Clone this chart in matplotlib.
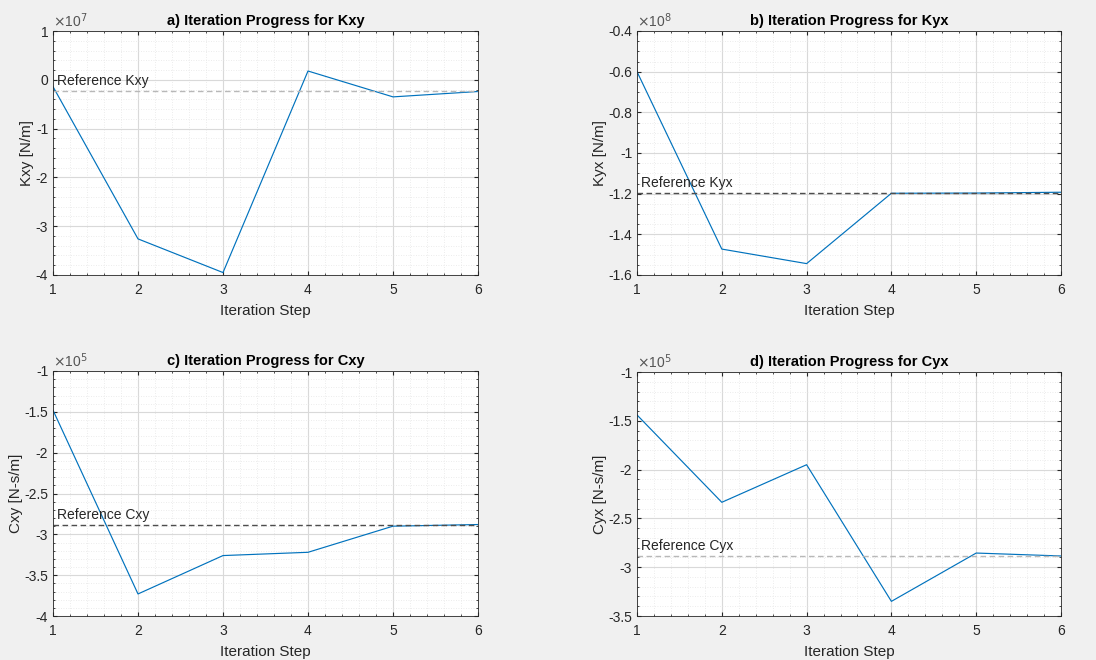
import matplotlib
matplotlib.use("Agg")
import matplotlib.pyplot as plt
from matplotlib.ticker import MultipleLocator, FuncFormatter

plt.rcParams['font.family'] = ['Liberation Sans', 'DejaVu Sans']

steps = [1, 2, 3, 4, 5, 6]

kxy = [-0.14, -3.26, -3.95, 0.18, -0.35, -0.24]   # x1e7
kyx = [-0.60, -1.4725, -1.544, -1.198, -1.197, -1.193]  # x1e8
cxy = [-1.48, -3.73, -3.26, -3.22, -2.90, -2.88]  # x1e5
cyx = [-1.44, -2.335, -1.95, -3.35, -2.855, -2.885]  # x1e5

refs = [-0.23, -1.195, -2.88, -2.885]
titles = ["a) Iteration Progress for Kxy", "b) Iteration Progress for Kyx",
          "c) Iteration Progress for Cxy", "d) Iteration Progress for Cyx"]
ylabels = ["Kxy [N/m]", "Kyx [N/m]", "Cxy [N-s/m]", "Cyx [N-s/m]"]
ref_labels = ["Reference Kxy", "Reference Kyx", "Reference Cxy", "Reference Cyx"]
exponents = [7, 8, 5, 5]
ylims = [(-4, 1), (-1.6, -0.4), (-4, -1), (-3.5, -1)]
ymajor = [1, 0.2, 0.5, 0.5]
yminor = [0.2, 0.05, 0.1, 0.1]
ref_colors = ["#b8b8b8", "#4d4d4d", "#4d4d4d", "#b8b8b8"]
series = [kxy, kyx, cxy, cyx]

W, H = 1096, 660
fig = plt.figure(figsize=(W / 100, H / 100), dpi=100, facecolor="#f0f0f0")
boxes = [(53, 31, 478, 275), (637, 31, 1061, 275),
         (53, 371, 478, 616), (637, 372, 1061, 616)]

def fmt(v, pos):
    return "%g" % round(v, 6)

for i in range(4):
    l, t, r, b = boxes[i]
    ax = fig.add_axes([l / W, 1 - b / H, (r - l) / W, (b - t) / H])
    ax.set_facecolor("white")
    ax.plot(steps, series[i], color="#0072BD", lw=0.85)
    ax.axhline(refs[i], color=ref_colors[i], lw=1.0, ls=(0, (4, 2.5)))
    ax.text(1.05, refs[i] + (ylims[i][1] - ylims[i][0]) * 0.012, ref_labels[i],
            fontsize=10, color="#262626", va="bottom", ha="left")
    ax.set_xlim(1, 6)
    ax.set_ylim(*ylims[i])
    ax.xaxis.set_major_locator(MultipleLocator(1))
    ax.xaxis.set_minor_locator(MultipleLocator(0.2))
    ax.yaxis.set_major_locator(MultipleLocator(ymajor[i]))
    ax.yaxis.set_minor_locator(MultipleLocator(yminor[i]))
    ax.yaxis.set_major_formatter(FuncFormatter(fmt))
    ax.grid(True, which="major", color="#d9d9d9", lw=0.8, ls="-")
    ax.grid(True, which="minor", color="#e6e6e6", lw=0.6, ls=(0, (1, 2)))
    ax.set_axisbelow(True)
    ax.tick_params(which="both", direction="in", top=True, right=True,
                   labelsize=10, colors="#262626", length=3)
    ax.tick_params(which="minor", length=1.5)
    ax.tick_params(axis="x", pad=6)
    for sp in ax.spines.values():
        sp.set_color("#262626")
        sp.set_linewidth(0.6)
    ax.set_title(titles[i], fontsize=10.5, fontweight="bold", color="black", pad=4)
    ax.set_xlabel("Iteration Step", fontsize=11, color="#262626", labelpad=5)
    ax.set_ylabel(ylabels[i], fontsize=11, color="#262626", labelpad=1)
    ax.text(0.0, 1.005, r"$\times$10$^{%d}$" % exponents[i], transform=ax.transAxes,
            fontsize=10, color="#555555", ha="left", va="bottom")

fig.savefig("out.png", dpi=100, facecolor=fig.get_facecolor())
